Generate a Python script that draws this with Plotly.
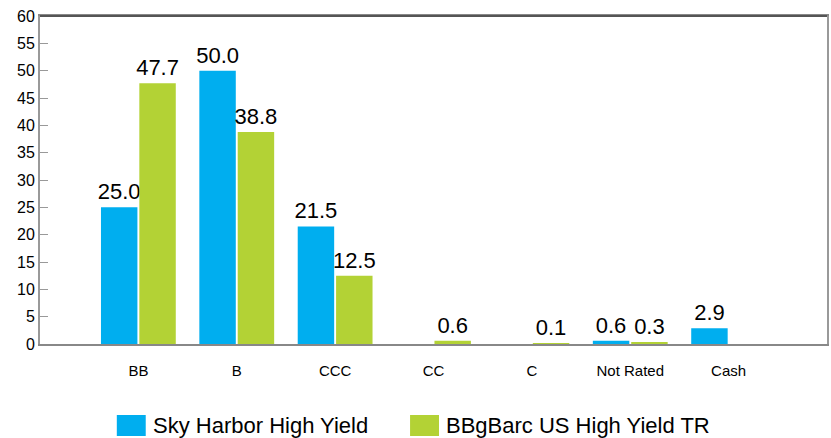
import plotly.graph_objects as go

categories = ["BB", "B", "CCC", "CC", "C", "Not Rated", "Cash"]
sky_harbor = [25.0, 50.0, 21.5, None, None, 0.6, 2.9]
bbgbarc = [47.7, 38.8, 12.5, 0.6, 0.1, 0.3, None]
series_names = ["Sky Harbor High Yield", "BBgBarc US High Yield TR"]
y_ticks = list(range(0, 61, 5))

BLUE = "#00AEEF"
GREEN = "#B3D235"
FONT = "Liberation Sans, Arial, sans-serif"


def labels(vals):
    return [None if v is None else f"{v:.1f}" for v in vals]


fig = go.Figure()
for name, vals, color in [(series_names[0], sky_harbor, BLUE), (series_names[1], bbgbarc, GREEN)]:
    fig.add_trace(go.Bar(
        x=categories, y=vals, name=name,
        marker=dict(color=color, line=dict(width=0)),
        text=labels(vals), textposition="outside", constraintext="none",
        textangle=0,
        textfont=dict(family=FONT, size=22, color="#000"),
        cliponaxis=False, showlegend=False,
    ))

# legend drawn as swatches + text below the plot
legend_items = [(series_names[0], BLUE, 117), (series_names[1], GREEN, 411)]
for name, color, x0 in legend_items:
    fig.add_shape(type="rect", xref="paper", yref="paper",
                  x0=(x0 - 40) / 789, x1=(x0 + 29 - 40) / 789,
                  y0=(344 - 436) / 328, y1=(344 - 415) / 328,
                  fillcolor=color, line=dict(width=0))
    fig.add_annotation(text=name, xref="paper", yref="paper",
                       x=(x0 + 34 - 40) / 789, y=(344 - 425) / 328,
                       xanchor="left", yanchor="middle", showarrow=False,
                       font=dict(family=FONT, size=22, color="#000"))

# darker top edge of the plot frame
fig.add_shape(type="line", xref="paper", yref="paper", x0=0, x1=1, y0=1, y1=1,
              line=dict(color="#555", width=2))

fig.update_layout(
    width=831, height=438,
    margin=dict(l=40, r=2, t=16, b=94),
    paper_bgcolor="white", plot_bgcolor="white",
    barmode="group", bargap=0.22, bargroupgap=0.05,
    xaxis=dict(
        range=[-1, 7], showgrid=False, zeroline=False,
        showline=True, linecolor="#888", linewidth=2, mirror=True,
        ticks="", tickfont=dict(family=FONT, size=15, color="#000"),
        ticklabelstandoff=12,
    ),
    yaxis=dict(
        range=[0, 60], tickvals=y_ticks, showgrid=False, zeroline=False,
        showline=True, linecolor="#999", linewidth=2, mirror=True,
        ticks="inside", ticklen=8, tickcolor="#999", tickwidth=1,
        tickfont=dict(family=FONT, size=16, color="#000"),
    ),
)

fig.write_html("out.html")
